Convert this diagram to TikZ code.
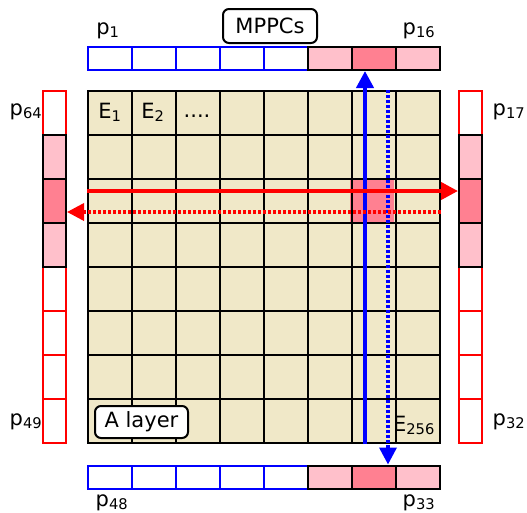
\documentclass[tikz,border=0pt]{standalone}
\usepackage{fontspec}
\setmainfont{DejaVu Sans}
\usetikzlibrary{arrows.meta}
\definecolor{layerfill}{RGB}{240,232,200}
\definecolor{litpink}{RGB}{255,192,203}
\definecolor{hitpink}{RGB}{255,128,145}
\tikzset{
  hcell/.style={minimum width=44pt,minimum height=23pt,inner sep=0pt,line width=2pt},
  vcell/.style={minimum width=23pt,minimum height=44pt,inner sep=0pt,line width=2pt},
  off/.style={draw=#1,fill=white},
  lit/.style={draw=black,fill=#1},
  tag/.style={draw,line width=2pt,rounded corners=6pt,fill=white,inner sep=0pt},
  beam/.style={line width=4pt,-{Triangle[length=17pt,width=17pt]}},
  echo/.style={line width=3.5pt,dash pattern=on 3pt off 2pt,-{Triangle[length=17pt,width=17pt]}}
}
\begin{document}
\begin{tikzpicture}[x=1pt,y=-1pt,font=\fontsize{21}{25}\selectfont]
  \useasboundingbox (0,0) rectangle (527,512);

  % 闪烁体层
  \node[draw,line width=2pt,fill=layerfill,minimum size=352pt,inner sep=0pt] (layer) at (264,267) {};
  \node[fill=hitpink,minimum size=44pt,inner sep=0pt] (hitcell) at (372,201) {};
  \foreach \k in {1,...,7} {
    \draw[line width=2pt] ({88+44*\k},91) -- ({88+44*\k},443);
    \draw[line width=2pt] (88,{91+44*\k}) -- (440,{91+44*\k});
  }

  % 上下两排 MPPC
  \foreach \i in {1,...,5} {
    \node[hcell,off=blue] (t\i) at ({66+44*\i},58.5) {};
    \node[hcell,off=blue] (b\i) at ({66+44*\i},477) {};
  }
  \foreach \i/\f in {6/litpink,7/hitpink,8/litpink} {
    \node[hcell,lit=\f] (t\i) at ({66+44*\i},58.5) {};
    \node[hcell,lit=\f] (b\i) at ({66+44*\i},477) {};
  }

  % 左右两排 MPPC
  \foreach \i in {1,5,6,7,8} {
    \node[vcell,off=red] (l\i) at (54.5,{69+44*\i}) {};
    \node[vcell,off=red] (r\i) at (470.5,{69+44*\i}) {};
  }
  \foreach \i/\f in {2/litpink,3/hitpink,4/litpink} {
    \node[vcell,lit=\f] (l\i) at (54.5,{69+44*\i}) {};
    \node[vcell,lit=\f] (r\i) at (470.5,{69+44*\i}) {};
  }

  % 光的传播
  \draw[beam,blue] ([xshift=-9pt]t7.south |- layer.south) -- ([xshift=-9pt]t7.south);
  \draw[echo,blue] ([xshift=14pt]t7.south |- layer.north) -- ([xshift=14pt]b7.north);
  \draw[beam,red] ([yshift=10pt]r3.west -| layer.west) -- ([yshift=10pt]r3.west);
  \draw[echo,red] ([yshift=-11pt]l3.east -| layer.east) -- ([yshift=-11pt]l3.east);

  % 标注
  \node[tag,minimum width=94pt,minimum height=34pt] (mppcs) at (270,26) {MPPCs};
  \node[tag,minimum width=93pt,minimum height=32pt] (alayer) at (141.5,422) {A layer};
  \node[anchor=base] (e1) at (110,118) {E\textsubscript{1}};
  \node[anchor=base] (e2) at (153,118) {E\textsubscript{2}};
  \node[anchor=base] (edots) at (197,117) {....};
  \node[anchor=base] (e256) at (414,431) {E\textsubscript{256}};
  \node[anchor=base] (p1) at (108,34) {p\textsubscript{1}};
  \node[anchor=base] (p16) at (419,34) {p\textsubscript{16}};
  \node[anchor=base] (p64) at (26,115) {p\textsubscript{64}};
  \node[anchor=base] (p17) at (509,115) {p\textsubscript{17}};
  \node[anchor=base] (p49) at (26,425) {p\textsubscript{49}};
  \node[anchor=base] (p32) at (509,425) {p\textsubscript{32}};
  \node[anchor=base] (p48) at (112,506) {p\textsubscript{48}};
  \node[anchor=base] (p33) at (419,506) {p\textsubscript{33}};
\end{tikzpicture}
\end{document}
